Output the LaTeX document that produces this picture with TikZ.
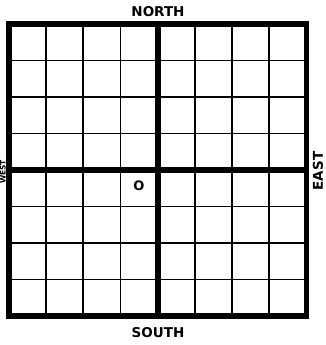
\documentclass[tikz,border=0pt]{standalone}
\usepackage{fontspec}
\setsansfont{DejaVu Sans}
\usepackage{tikz}
\usetikzlibrary{positioning}

\begin{document}
\begin{tikzpicture}[
    x=1pt, y=-1pt,
    thinline/.style={line width=1.8pt, draw=black},
    thickline/.style={line width=5.5pt, draw=black},
    compass/.style={font=\sffamily\bfseries\fontsize{13.5}{14}\selectfont, inner sep=0pt},
    originlabel/.style={font=\sffamily\bfseries\fontsize{13}{13}\selectfont, inner sep=0pt}
]
    \useasboundingbox (0,0) rectangle (326,345);
    % thin grid lines
    \foreach \i in {1,2,3,5,6,7} {
        \draw [thinline] ({9+\i*37.19},24) -- ({9+\i*37.19},316);
        \draw [thinline] (9,{24+\i*36.5}) -- (306.5,{24+\i*36.5});
    }
    % the two middle lines and the border
    \draw [thickline] (157.75,24) -- (157.75,316);
    \draw [thickline] (9,170) -- (306.5,170);
    \draw [thickline, line join=miter] (9,24) rectangle (306.5,316);

    \node [compass] (north) at (158,12) {NORTH};
    \node [compass] (south) at (158,333) {SOUTH};
    \node [compass, rotate=90] (east) at (318,171) {EAST};
    \node [compass, rotate=90, font=\sffamily\bfseries\fontsize{7.5}{8}\selectfont] (west) at (3,172) {WEST};
    \node [originlabel] (origin) at (139,186) {O};
\end{tikzpicture}
\end{document}
